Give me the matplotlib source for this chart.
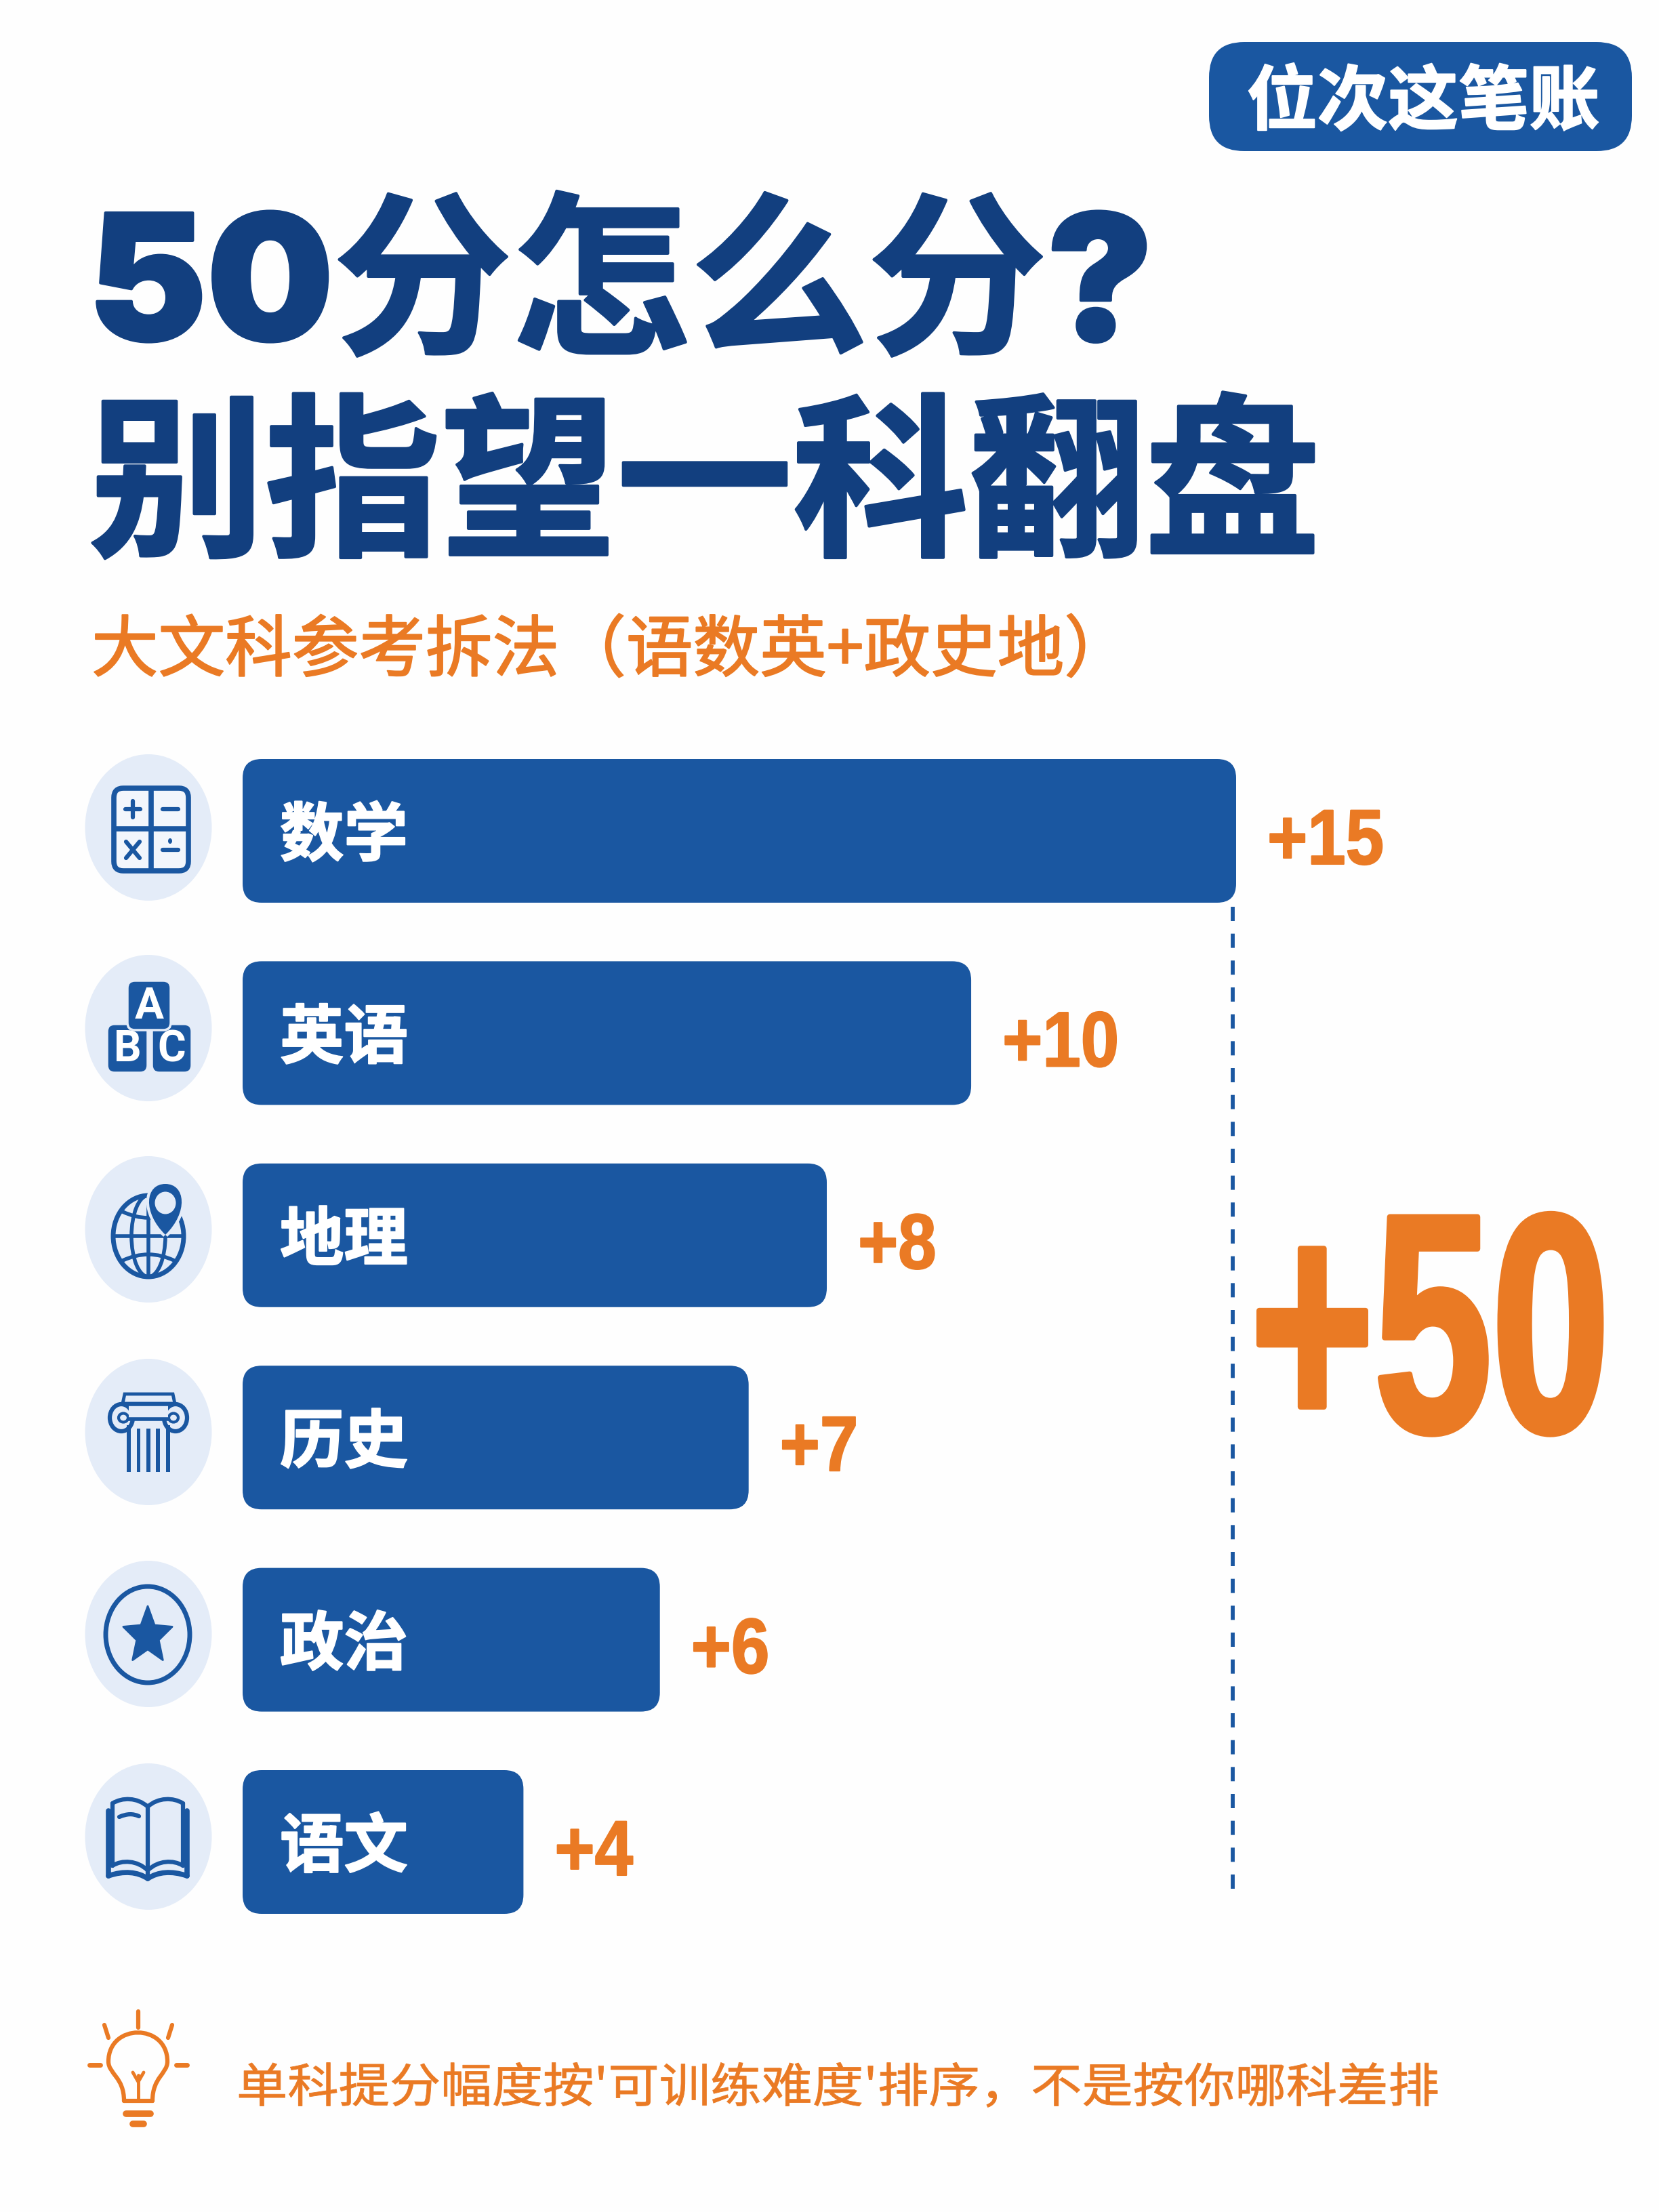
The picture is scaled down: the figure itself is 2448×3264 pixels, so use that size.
import numpy as np
import matplotlib
matplotlib.use('Agg')
import matplotlib.pyplot as plt
import matplotlib.patheffects as pe
from matplotlib.patches import FancyBboxPatch, Ellipse, Rectangle, PathPatch, Polygon
from matplotlib.path import Path
from matplotlib.transforms import Affine2D

plt.rcParams['font.family'] = ['Noto Sans CJK SC', 'DejaVu Sans']

# === Data ===
subjects = ['数学', '英语', '地理', '历史', '政治', '语文']
gains = [15, 10, 8, 7, 6, 4]
# bar lengths as drawn in the picture (not quite proportional to the gains)
drawn_lengths = [15.0, 11.0, 8.82, 7.64, 6.30, 4.24]
total_label = '+50'
title_lines = ['50分怎么分?', '别指望一科翻盘']
badge_text = '位次这笔账'
subtitle = '大文科参考拆法（语数英+政史地）'
footnote = "单科提分幅度按'可训练难度'排序，不是按你哪科差排"

BLUE = '#1A57A1'
NAVY = '#123F7F'
ORANGE = '#EA7A24'
PALE = '#E4ECF8'
W, H = 2448, 3264


class Stretch(pe.AbstractPathEffect):
    """Draw text scaled around its origin, with an optional outline."""

    def __init__(self, sx=1.0, sy=1.0, stroke=0.0):
        super().__init__()
        self.sx, self.sy, self.stroke = sx, sy, stroke

    def draw_path(self, renderer, gc, tpath, affine, rgbFace=None):
        gc0 = renderer.new_gc()
        gc0.copy_properties(gc)
        gc0.set_foreground(rgbFace)
        gc0.set_linewidth(self.stroke)
        gc0.set_joinstyle('round')
        renderer.draw_path(gc0, tpath, Affine2D().scale(self.sx, self.sy) + affine, rgbFace)
        gc0.restore()


fig = plt.figure(figsize=(W / 100, H / 100), dpi=100, facecolor='#FEFEFE')

# overlay in pixel coordinates for the header, footer and icons
ov = fig.add_axes([0, 0, 1, 1])
ov.set_xlim(0, W); ov.set_ylim(H, 0); ov.axis('off')

# === Header ===
ov.add_patch(FancyBboxPatch((1784, 62), 624, 161, boxstyle='round,pad=0,rounding_size=52',
                            fc=BLUE, ec='none'))
ov.text(2100, 152, badge_text, color='white', fontsize=75, fontweight='bold', ha='center', va='center',
        path_effects=[Stretch(stroke=1.5)])
title_font = ['Inter', 'Noto Sans CJK SC']
ov.text(130, 502, title_lines[0], color=NAVY, fontsize=186, fontweight='black', family=title_font,
        path_effects=[Stretch(sx=1.018, stroke=3)])
ov.text(131, 800, title_lines[1], color=NAVY, fontsize=186, fontweight='black',
        path_effects=[Stretch(sx=1.005, stroke=3)])
ov.text(135, 990, subtitle, color=ORANGE, fontsize=71, fontweight='medium',
        path_effects=[Stretch(stroke=1.5)])

# === Bars ===
x0, x1 = 358, 1824
row0, row_step = 1226, 298.4
ax = fig.add_axes([x0 / W, 1 - (row0 + 5.5 * row_step) / H, (x1 - x0) / W, 6 * row_step / H])
ax.set_xlim(0, max(drawn_lengths)); ax.set_ylim(5.5, -0.5)
ax.axis('off'); ax.patch.set_alpha(0)
px_x = (x1 - x0) / max(drawn_lengths)
bar_h = 212 / row_step
for i, (name, gain, length) in enumerate(zip(subjects, gains, drawn_lengths)):
    ax.add_patch(FancyBboxPatch((0, i - bar_h / 2), length, bar_h,
                                boxstyle=f'round,pad=0,rounding_size={28 / px_x}',
                                mutation_aspect=px_x / row_step, fc=BLUE, ec='none', clip_on=False))
    ax.text(55 / px_x, i + 0.03, name, color='white', fontsize=68, fontweight='bold', va='center',
            path_effects=[Stretch(stroke=1.5)])
    ax.text(length + 46 / px_x, i + 49 / row_step, f'+{gain}', color=ORANGE, fontsize=83, fontweight='bold',
            family='Liberation Sans', va='baseline', clip_on=False, path_effects=[Stretch(sx=0.88, stroke=1.5)])

# dashed bracket and the total
ov.plot([1819, 1819], [1338, 2800], color=BLUE, lw=4.2, dashes=(3.6, 3.2))
# small nominal size so the text box stays inside the figure, scaled up when drawn
ov.text(1845, 2112, total_label, color=ORANGE, fontsize=250, fontweight='bold',
        family='Liberation Sans', ha='left', va='baseline',
        path_effects=[Stretch(sx=0.90, sy=1.324, stroke=6)])

# === Icons ===
icon_y = [1221, 1517, 1814, 2113, 2411, 2710]
for y in icon_y:
    ov.add_patch(Ellipse((219, y), 187, 216, fc=PALE, ec='none'))


def seg(x, y, lw=4.5, color=BLUE, cap='round'):
    ov.plot(x, y, color=color, lw=lw, solid_capstyle=cap, solid_joinstyle='round')


def curve(verts, codes, lw=4.5, color=BLUE, fc='none'):
    ov.add_patch(PathPatch(Path(verts, codes), fc=fc, ec=color, lw=lw, capstyle='round', joinstyle='round'))


def calculator():
    ov.add_patch(FancyBboxPatch((168, 1163), 110, 122, boxstyle='round,pad=0,rounding_size=14',
                                fc='#F2F6FC', ec=BLUE, lw=5.5))
    seg([223, 223], [1163, 1285], 5.5, cap='butt'); seg([168, 278], [1223, 1223], 5.5, cap='butt')
    seg([185, 207], [1194, 1194]); seg([196, 196], [1182, 1206])
    seg([240, 263], [1194, 1194])
    seg([186, 206], [1242, 1266]); seg([206, 186], [1242, 1266])
    seg([240, 263], [1254, 1254])
    ov.add_patch(Ellipse((251, 1241), 6, 8, fc=BLUE, ec='none'))


def blocks():
    for bx, by, bw, bh, ch in [(158, 1511, 60, 72, 'B'), (224, 1511, 59, 72, 'C'), (188, 1447, 64, 73, 'A')]:
        ov.add_patch(FancyBboxPatch((bx, by), bw, bh, boxstyle='round,pad=0,rounding_size=11',
                                    fc=BLUE, ec=PALE, lw=2.5))
        ov.text(bx + bw / 2, by + bh / 2 + 2, ch, color='white', fontsize=46, fontweight='bold',
                family='Roboto', ha='center', va='center')


def globe():
    cx, cy, rx, ry = 219, 1824, 52, 60
    ov.add_patch(Ellipse((cx, cy), 2 * rx, 2 * ry, fc='none', ec=BLUE, lw=5))
    ov.add_patch(Ellipse((cx, cy), 50, 2 * ry, fc='none', ec=BLUE, lw=4))
    seg([cx, cx], [cy - ry, cy + ry], 4)
    seg([cx - rx, cx + rx], [cy, cy], 4)
    curve([(cx - 38, cy - 36), (cx, cy - 18), (cx + 38, cy - 36)], [1, 3, 3], lw=4)
    curve([(cx - 38, cy + 36), (cx, cy + 18), (cx + 38, cy + 36)], [1, 3, 3], lw=4)
    px, py = 244, 1775
    tip = py + 47
    pin = Path([(px, tip), (px - 34, py + 14), (px - 30, py - 28), (px, py - 28),
                (px + 30, py - 28), (px + 34, py + 14), (px, tip)], [1, 4, 4, 4, 4, 4, 4])
    ov.add_patch(PathPatch(pin, fc=BLUE, ec=PALE, lw=6, zorder=3))
    ov.add_patch(PathPatch(pin, fc=BLUE, ec='none', zorder=3))
    ov.add_patch(Ellipse((px, py), 31, 33, fc=PALE, ec='none', zorder=3))


def column():
    ov.add_patch(Polygon([(184, 2057), (255, 2057), (258, 2071), (181, 2071)], fc=PALE, ec=BLUE, lw=3.5))
    for vx in [179, 259]:
        ov.add_patch(Ellipse((vx, 2092), 34, 40, fc=PALE, ec=BLUE, lw=4.5))
        ov.add_patch(Ellipse((vx + (3 if vx < 219 else -3), 2092), 14, 13, fc=PALE, ec=BLUE, lw=3))
    ov.add_patch(Rectangle((190, 2073), 58, 20, fc=PALE, ec='none'))
    seg([181, 258], [2072, 2072], 4, cap='butt')
    seg([188, 250], [2094, 2094], 4, cap='butt')
    for fx, fw, top in zip([187, 202, 216, 230, 245], [6, 5, 6, 6, 6], [2103, 2108, 2108, 2108, 2103]):
        ov.add_patch(Rectangle((fx, top), fw, 2172 - top, fc=BLUE, ec='none'))


def star():
    ov.add_patch(Ellipse((218, 2412), 124, 142, fc='none', ec=BLUE, lw=5))
    ang = np.deg2rad(np.arange(0, 360, 36) - 90)
    rad = np.where(np.arange(10) % 2 == 0, 1.0, 0.45)
    pts = np.column_stack([218 + 38 * rad * np.cos(ang), 2414 + 44 * rad * np.sin(ang)])
    ov.add_patch(Polygon(pts, fc=BLUE, ec=BLUE, lw=2, joinstyle='round'))


def book():
    c = [1, 4, 4, 4]
    for s in [-1, 1]:
        xs = lambda d: 218 + s * d
        curve([(xs(0), 2666), (xs(15), 2652), (xs(38), 2652), (xs(52), 2661)], c, lw=4.5)
        curve([(xs(0), 2760), (xs(15), 2745), (xs(38), 2744), (xs(52), 2753)], c, lw=4.5)
        seg([xs(52), xs(52)], [2661, 2753], 4.5)
        seg([xs(58), xs(58)], [2672, 2768], 5.5)
        curve([(xs(58), 2768), (xs(35), 2760), (xs(15), 2762), (xs(0), 2772)], c, lw=5.5)
    seg([218, 218], [2668, 2770], 4.5)
    curve([(176, 2681), (188, 2676), (196, 2676), (205, 2680)], c, lw=4.5)


for draw_icon in [calculator, blocks, globe, column, star, book]:
    draw_icon()

# === Footer ===
seg([204, 204], [2968, 2992], 4.5, ORANGE)
seg([154, 160], [2988, 3007], 4.5, ORANGE); seg([254, 248], [2988, 3007], 4.5, ORANGE)
seg([132, 148], [3047, 3047], 5, ORANGE); seg([260, 276], [3047, 3047], 5, ORANGE)
curve([(183, 3100), (183, 3065), (160, 3060), (160, 3042), (160, 2985), (247, 2985), (247, 3042),
       (247, 3060), (225, 3065), (225, 3100)],
      [1, 4, 4, 4, 4, 4, 4, 4, 4, 4], lw=4.5, color=ORANGE)
seg([183, 225], [3100, 3100], 4.5, ORANGE)
seg([204, 204], [3062, 3100], 3.5, ORANGE)
seg([196, 204, 212], [3058, 3072, 3058], 3.5, ORANGE)
seg([186, 222], [3119, 3119], 7, ORANGE)
seg([196, 212], [3134, 3134], 7, ORANGE)
ov.text(349, 3102, footnote, color=ORANGE, fontsize=50, fontweight='medium',
        path_effects=[Stretch(sx=1.085, stroke=0.6)])

fig.savefig('out.png', dpi=100, facecolor=fig.get_facecolor())
